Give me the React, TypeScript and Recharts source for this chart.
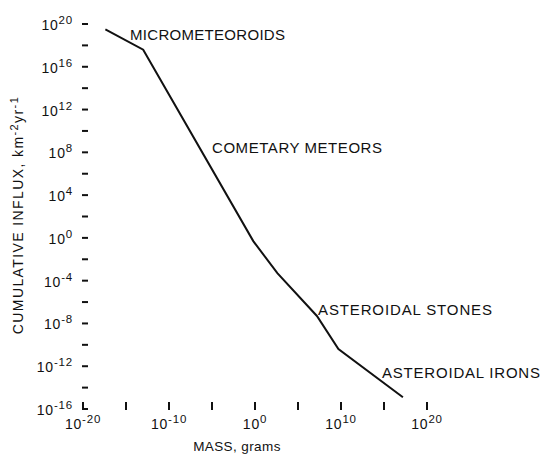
import React from 'react';
import { LineChart, Line, XAxis, YAxis } from 'recharts';

// log10 of mass (grams) and cumulative influx (km^-2 yr^-1)
const massExp = [-17.4, -13.0, -0.2, 2.6, 7.2, 9.7, 17.2];
const influxExp = [19.5, 17.6, -0.3, -3.3, -7.3, -10.4, -14.9];

const xTicks = [-20, -15, -10, -5, 0, 5, 10, 15, 20];
const xLabelled = [-20, -10, 0, 10, 20];
const yTicks = [-16, -14, -12, -10, -8, -6, -4, -2, 0, 2, 4, 6, 8, 10, 12, 14, 16, 18, 20];
const yLabelled = [-16, -12, -8, -4, 0, 4, 8, 12, 16, 20];

const data = massExp.map((m, i) => ({ mass: m, influx: influxExp[i] }));

const FONT = '"Liberation Sans", Arial, Helvetica, sans-serif';

const YTick = (props: any) => {
  const { x, y, payload } = props;
  const v = payload.value;
  return (
    <g>
      <line x1={x - 1} x2={x + 5} y1={y} y2={y} stroke="#111" strokeWidth={2} />
      {yLabelled.includes(v) && (
        <text x={x - 10} y={y + 6} textAnchor="end" fontSize={14} letterSpacing={0.8} fill="#111" fontFamily={FONT}>
          10<tspan fontSize={11.5} dy={-6}>{v}</tspan>
        </text>
      )}
    </g>
  );
};

const XTick = (props: any) => {
  const { x, y, payload } = props;
  const v = payload.value;
  return (
    <g>
      <line x1={x} x2={x} y1={y - 7} y2={y + 1} stroke="#111" strokeWidth={2} />
      {xLabelled.includes(v) && (
        <text x={x} y={y + 20} textAnchor="middle" fontSize={14} letterSpacing={0.8} fill="#111" fontFamily={FONT}>
          10<tspan fontSize={11.5} dy={-6}>{v}</tspan>
        </text>
      )}
    </g>
  );
};

export default function App() {
  const labelStyle = { fontFamily: FONT, fontSize: 15, fill: '#111' };
  return (
    <div style={{ position: 'absolute', left: 0, top: 0, width: 544, height: 460, background: '#fff' }}>
      <LineChart width={544} height={460} data={data} margin={{ top: 24, right: 117, bottom: 0, left: 0 }}>
        <XAxis
          dataKey="mass"
          type="number"
          domain={[-20, 20]}
          ticks={xTicks}
          interval={0}
          height={51}
          axisLine={false}
          tickLine={false}
          tickSize={0}
          tickMargin={0}
          tick={<XTick />}
          allowDataOverflow
        />
        <YAxis
          dataKey="influx"
          type="number"
          domain={[-16, 20]}
          ticks={yTicks}
          interval={0}
          width={83}
          axisLine={false}
          tickLine={false}
          tickSize={0}
          tickMargin={0}
          tick={<YTick />}
          allowDataOverflow
        />
        <Line type="linear" dataKey="influx" stroke="#111" strokeWidth={2} dot={false} isAnimationActive={false} />
      </LineChart>
      <svg width={544} height={460} style={{ position: 'absolute', left: 0, top: 0, pointerEvents: 'none' }}>
        <text x={130} y={40} style={labelStyle} textLength={155} lengthAdjust="spacing">MICROMETEOROIDS</text>
        <text x={212} y={153} style={labelStyle} textLength={170} lengthAdjust="spacing">COMETARY METEORS</text>
        <text x={318} y={315} style={labelStyle} textLength={174} lengthAdjust="spacing">ASTEROIDAL STONES</text>
        <text x={382} y={378} style={labelStyle} textLength={158} lengthAdjust="spacing">ASTEROIDAL IRONS</text>
        <text x={237} y={451} textAnchor="middle" fontFamily={FONT} fontSize={13.5} fill="#111" letterSpacing={0.4}>
          MASS, grams
        </text>
        <text
          transform="translate(23 215) rotate(-90)"
          textAnchor="middle"
          fontFamily={FONT}
          fontSize={14}
          fill="#111"
          letterSpacing={1.4}
        >
          CUMULATIVE INFLUX, km<tspan fontSize={11} dy={-5}>-2</tspan>
          <tspan dy={5}>yr</tspan>
          <tspan fontSize={11} dy={-5}>-1</tspan>
        </text>
      </svg>
    </div>
  );
}
